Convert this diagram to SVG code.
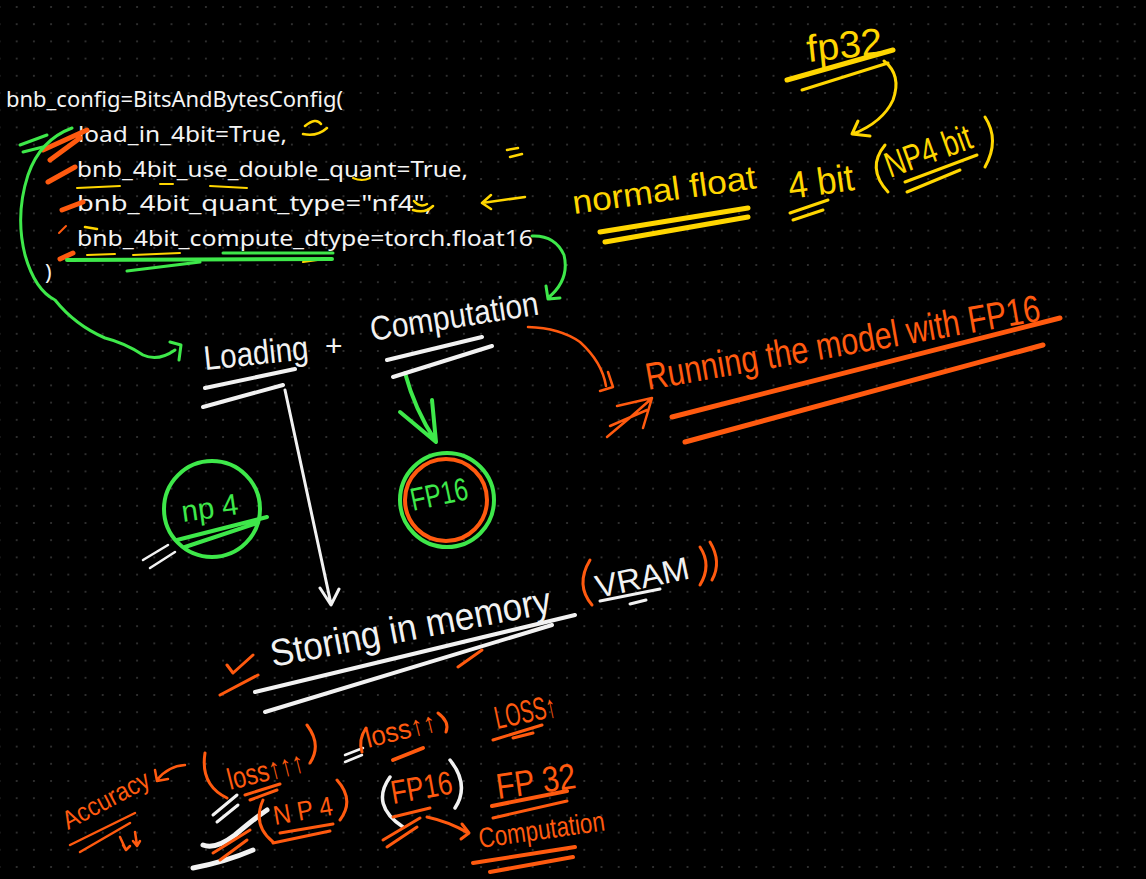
<svg xmlns="http://www.w3.org/2000/svg" width="1146" height="879" viewBox="0 0 1146 879">
<defs>
<pattern id="dots" x="8.1" y="-1.6" width="17.2" height="17.2" patternUnits="userSpaceOnUse">
<circle cx="8.6" cy="8.6" r="1" fill="#3a3a3a"/>
</pattern>
<style>
.code{font-family:"Noto Sans","Open Sans","Liberation Sans",sans-serif;font-size:22px;fill:#f4f4f4}
.hw{font-family:"Liberation Sans","DejaVu Sans",sans-serif}
.w{stroke:#f2f2f2;fill:none;stroke-linecap:round;stroke-linejoin:round}
.y{stroke:#ffd600;fill:none;stroke-linecap:round;stroke-linejoin:round}
.g{stroke:#3ee84a;fill:none;stroke-linecap:round;stroke-linejoin:round}
.o{stroke:#ff5a0f;fill:none;stroke-linecap:round;stroke-linejoin:round}
.tw{fill:#f2f2f2}.ty{fill:#ffd600}.tg{fill:#3ee84a}.to{fill:#ff5a0f}
</style>
</defs>
<rect width="1146" height="879" fill="#000"/>
<rect width="1146" height="879" fill="url(#dots)"/>

<g id="code">
<text class="code" x="6" y="107" textLength="337" lengthAdjust="spacingAndGlyphs">bnb_config=BitsAndBytesConfig(</text>
<text class="code" x="78" y="142" textLength="209" lengthAdjust="spacingAndGlyphs">load_in_4bit=True,</text>
<text class="code" x="77" y="177" textLength="391" lengthAdjust="spacingAndGlyphs">bnb_4bit_use_double_quant=True,</text>
<text class="code" x="77" y="211" textLength="355" lengthAdjust="spacingAndGlyphs">bnb_4bit_quant_type="nf4",</text>
<text class="code" x="77" y="246" textLength="456" lengthAdjust="spacingAndGlyphs">bnb_4bit_compute_dtype=torch.float16</text>
<text class="code" x="45" y="280">)</text>
</g>

<g id="code-marks">
<path class="o" stroke-width="5" d="M43,150 L87,130 M50,160 L80,138 M48,182 L75,167 M62,210 L83,202 M60,259 L73,253"/>
<path class="o" stroke-width="2" d="M59,233 L66,226"/>
<path class="g" stroke-width="3" d="M20,145 L47,135 M23,152 L43,147"/>
<path class="y" stroke-width="2.5" d="M305,126 Q316,117 321,124 M303,134 Q317,137 327,128 M507,150 L518,148 M510,157 L522,154 M414,201 Q420,208 427,204 M413,210 Q425,214 433,206 M85,227 L97,229"/>
<path class="y" stroke-width="2" d="M77,188 L120,186 M160,184 L173,184 M210,186 L247,188 M353,178 Q362,182 370,178 M87,255 L115,254 M133,255 L180,253 M220,260 L253,259 M303,262 L325,259"/>
<path class="g" stroke-width="3" d="M223,253 L333,253 M127,271 L200,262"/>
<path class="g" stroke-width="4" d="M67,260 L332,259"/>
<path class="y" stroke-width="2.5" d="M525,197 L482,203 M491,195 L482,203 L491,209"/>
</g>

<g id="yellow-notes">
<text class="hw ty" x="808" y="62" font-size="38" textLength="76" lengthAdjust="spacingAndGlyphs" transform="rotate(-6 808 62)">fp32</text>
<path class="y" stroke-width="5" d="M787,80 L893,50"/>
<path class="y" stroke-width="3" d="M802,90 L888,63"/>
<path class="y" stroke-width="3" d="M884,61 Q902,75 893,100 Q883,122 853,134 M858,121 L852,134 L870,136"/>
<text class="hw ty" x="574" y="214" font-size="33" textLength="185" lengthAdjust="spacingAndGlyphs" transform="rotate(-8 574 214)">normal float</text>
<text class="hw ty" x="790" y="199" font-size="38" textLength="66" lengthAdjust="spacingAndGlyphs" transform="rotate(-8 790 199)">4 bit</text>
<path class="y" stroke-width="3" d="M885,145 Q866,168 888,192 M985,117 Q1000,140 985,167"/>
<text class="hw ty" x="890" y="178" font-size="36" textLength="90" lengthAdjust="spacingAndGlyphs" transform="rotate(-20 890 178)">NP4 bit</text>
<path class="y" stroke-width="5" d="M600,232 L748,208 M605,242 L748,217"/>
<path class="y" stroke-width="3" d="M790,213 L828,200 M793,220 L823,210 M905,182 L977,155 M907,192 L960,170"/>
</g>

<g id="connectors">
<path class="g" stroke-width="3" d="M72,128 Q40,140 28,175 Q15,215 25,255 Q35,290 55,300 Q75,325 105,338 Q125,343 143,355 Q158,362 175,350 M170,342 L181,345 L179,360"/>
<path class="g" stroke-width="3" d="M532,236 Q555,235 564,255 Q570,280 548,298 M546,286 L548,299 L560,298"/>
<path class="w" stroke-width="3" d="M285,390 L331,604 M320,588 L331,605 L339,589"/>
<path class="g" stroke-width="4" d="M405,373 Q415,410 435,440 M400,412 L436,442 L432,400"/>
<path class="o" stroke-width="2.5" d="M528,327 Q560,328 580,342 Q602,362 606,386 M608,372 L613,387 L600,391"/>
<path class="o" stroke-width="2.5" d="M607,437 Q630,418 650,400 M610,426 L647,410 M617,406 L652,398 L643,428"/>
</g>

<g id="loading-computation">
<text class="hw tw" x="205" y="370" font-size="34" textLength="105" lengthAdjust="spacingAndGlyphs" transform="rotate(-6 205 370)">Loading</text>
<text class="hw tw" x="325" y="356" font-size="30">+</text>
<text class="hw tw" x="372" y="341" font-size="34" textLength="170" lengthAdjust="spacingAndGlyphs" transform="rotate(-9 372 341)">Computation</text>
<path class="w" stroke-width="4" d="M205,388 L295,369 M203,407 L283,385 M387,360 L482,337 M393,377 L492,346"/>
</g>

<g id="np4-circle">
<circle class="g" stroke-width="4" cx="212" cy="509" r="48"/>
<text class="hw tg" x="183" y="522" font-size="30" textLength="57" lengthAdjust="spacingAndGlyphs" transform="rotate(-8 183 522)">np 4</text>
<path class="g" stroke-width="4" d="M177,540 L267,517 M185,547 L257,523"/>
<path class="w" stroke-width="2.5" d="M143,560 L168,545 M150,568 L175,552"/>
</g>

<g id="fp16-circle">
<circle class="g" stroke-width="4" cx="447" cy="500" r="47"/>
<circle class="o" stroke-width="4" cx="446" cy="500" r="41"/>
<text class="hw tg" x="413" y="511" font-size="32" textLength="58" lengthAdjust="spacingAndGlyphs" transform="rotate(-12 413 511)">FP16</text>
</g>

<g id="running">
<text class="hw to" x="648" y="390" font-size="38" textLength="400" lengthAdjust="spacingAndGlyphs" transform="rotate(-10 648 390)">Running the model with FP16</text>
<path class="o" stroke-width="5" d="M672,417 L1060,318 M685,442 L1043,345"/>
</g>

<g id="storing">
<text class="hw tw" x="273" y="667" font-size="38" textLength="285" lengthAdjust="spacingAndGlyphs" transform="rotate(-11 273 667)">Storing in memory</text>
<path class="w" stroke-width="4" d="M255,692 L575,615 M265,712 L552,625"/>
<path class="o" stroke-width="3" d="M227,665 L233,673 L253,655 M220,695 L258,675 M458,667 L482,650"/>
<path class="o" stroke-width="3" d="M590,560 Q575,585 592,605 M700,547 Q712,565 700,585 M710,542 Q722,562 712,580"/>
<text class="hw tw" x="598" y="598" font-size="32" textLength="95" lengthAdjust="spacingAndGlyphs" transform="rotate(-12 598 598)">VRAM</text>
<path class="w" stroke-width="3" d="M600,601 L660,589 M630,604 L646,600"/>
</g>

<g id="bottom-notes">
<text class="hw to" x="68" y="830" font-size="26" textLength="95" lengthAdjust="spacingAndGlyphs" transform="rotate(-28 68 830)">Accuracy</text>
<path class="o" stroke-width="2.5" d="M70,845 L135,813 M80,852 L130,823 M120,837 L126,850 M123,845 L126,850 L130,846 M135,832 L137,845 M133,841 L137,846 L140,841"/>
<path class="o" stroke-width="2.5" d="M185,765 Q168,766 157,780 M155,770 L157,781 L168,779"/>
<path class="o" stroke-width="3" d="M205,753 Q200,785 227,798 M307,725 Q322,745 310,763"/>
<text class="hw to" x="230" y="790" font-size="30" textLength="78" lengthAdjust="spacingAndGlyphs" transform="rotate(-14 230 790)">loss↑↑↑</text>
<path class="o" stroke-width="3" d="M245,795 L280,784 M250,800 L277,790"/>
<path class="w" stroke-width="3" d="M213,815 L237,795 M217,822 L238,805"/>
<path class="w" stroke-width="5" d="M203,845 Q215,850 235,835 Q255,818 267,810 M193,868 Q225,862 253,850"/>
<path class="o" stroke-width="3" d="M213,853 L250,830 M220,860 L247,840"/>
<path class="o" stroke-width="3" d="M263,800 Q252,825 273,842 M337,780 Q355,800 340,820"/>
<text class="hw to" x="275" y="825" font-size="27" textLength="60" lengthAdjust="spacingAndGlyphs" transform="rotate(-10 275 825)">N P 4</text>
<path class="o" stroke-width="3" d="M280,833 L333,824 M273,843 L330,831"/>
<path class="w" stroke-width="2.5" d="M345,755 L363,748 M345,762 L362,755"/>
<path class="o" stroke-width="3" d="M366,728 Q358,740 362,752 M438,713 Q450,722 446,732"/>
<text class="hw to" x="368" y="748" font-size="28" textLength="72" lengthAdjust="spacingAndGlyphs" transform="rotate(-14 368 748)">loss↑↑</text>
<path class="o" stroke-width="4" d="M393,760 L423,748"/>
<text class="hw to" x="497" y="729" font-size="32" textLength="62" lengthAdjust="spacingAndGlyphs" transform="rotate(-12 497 729)">LOSS↑</text>
<path class="o" stroke-width="3" d="M493,740 L542,725 M513,738 L533,733"/>
<path class="w" stroke-width="3.5" d="M390,777 Q370,805 403,827 M450,760 Q470,785 455,808"/>
<text class="hw to" x="393" y="804" font-size="33" textLength="62" lengthAdjust="spacingAndGlyphs" transform="rotate(-10 393 804)">FP16</text>
<path class="o" stroke-width="3" d="M393,817 L430,808 M383,840 L420,818 M387,847 L417,827 M427,817 Q450,822 468,833 M462,824 L469,833 L461,839"/>
<text class="hw to" x="498" y="799" font-size="36" textLength="80" lengthAdjust="spacingAndGlyphs" transform="rotate(-8 498 799)">FP 32</text>
<path class="o" stroke-width="4" d="M492,806 L567,791"/>
<path class="o" stroke-width="3" d="M493,818 L567,801"/>
<text class="hw to" x="480" y="848" font-size="28" textLength="127" lengthAdjust="spacingAndGlyphs" transform="rotate(-8 480 848)">Computation</text>
<path class="o" stroke-width="4" d="M473,863 L575,847 M490,872 L573,857"/>
</g>
</svg>
